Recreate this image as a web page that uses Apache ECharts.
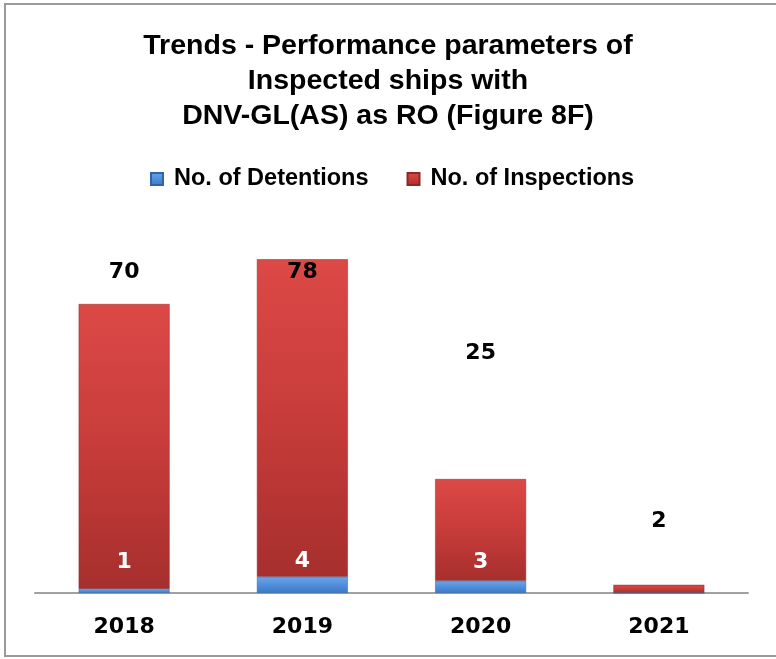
<!DOCTYPE html>
<html>
<head>
<meta charset="utf-8">
<script src="https://cdn.jsdelivr.net/npm/echarts@6/dist/echarts.min.js"></script>
<style>
  html, body { margin: 0; padding: 0; background: #fff; }
  #chart { width: 776px; height: 659px; }
</style>
</head>
<body>
<div id="chart"></div>
<script>
const years = ["2018", "2019", "2020", "2021"];
const detentions = [1, 4, 3, 0];
const inspections = [70, 78, 25, 2];

// label nudges (px) so the numbers sit where the original put them
const inspLabelShift = [-16, 29, -110, -48];
const detLabelShift = [-11, 1, -3, 0];

const myChart = echarts.init(document.getElementById("chart"));

const font = "Liberation Sans, Arial, sans-serif";
const numFont = "DejaVu Sans, sans-serif";

const redFill = new echarts.graphic.LinearGradient(0, 0, 0, 1, [
  { offset: 0, color: "#dc4946" },
  { offset: 0.5, color: "#c73c3a" },
  { offset: 1, color: "#a62f2d" },
]);
const blueFill = new echarts.graphic.LinearGradient(0, 0, 0, 1, [
  { offset: 0, color: "#6aa6ec" },
  { offset: 1, color: "#3a78c8" },
]);

const option = {
  animation: false,
  title: {
    text: "Trends - Performance parameters of\nInspected ships with\nDNV-GL(AS) as RO (Figure 8F)",
    left: "center",
    top: 24,
    textStyle: {
      fontFamily: font,
      fontSize: 28.5,
      fontWeight: "bold",
      color: "#000",
      lineHeight: 35,
    },
  },
  legend: {
    top: 162,
    left: 145,
    itemWidth: 12,
    itemHeight: 12,
    itemGap: 38,
    icon: "rect",
    textStyle: {
      fontFamily: font,
      fontSize: 23.5,
      fontWeight: "bold",
      color: "#000",
      padding: [0, 0, 0, 6],
    },
    data: ["No. of Detentions", "No. of Inspections"],
  },
  graphic: [
    {
      type: "rect",
      shape: { x: 5, y: 4, width: 790, height: 652 },
      style: { fill: "none", stroke: "#9a9a9a", lineWidth: 2 },
      silent: true,
    },
  ],
  grid: { left: 35, right: 28, top: 186, bottom: 66 },
  xAxis: {
    type: "category",
    data: years,
    axisLine: { lineStyle: { color: "#a0a0a0", width: 2 } },
    axisTick: { show: false },
    axisLabel: {
      fontFamily: numFont,
      fontSize: 22,
      fontWeight: "bold",
      color: "#000",
      margin: 23,
    },
  },
  yAxis: {
    type: "value",
    min: 0,
    max: 100,
    show: false,
    splitLine: { show: false },
  },
  series: [
    {
      name: "No. of Detentions",
      type: "bar",
      stack: "total",
      barWidth: "51%",
      data: detentions.map((v, i) => ({
        value: v,
        label: { offset: [0, detLabelShift[i]] },
      })),
      itemStyle: { color: blueFill, borderColor: "#2f64a8", borderWidth: 0.5 },
      label: {
        show: true,
        position: "top",
        fontFamily: numFont,
        fontSize: 22,
        fontWeight: "bold",
        color: "#fff",
        formatter: (p) => (p.value ? p.value : ""),
      },
      z: 3,
    },
    {
      name: "No. of Inspections",
      type: "bar",
      stack: "total",
      barWidth: "51%",
      data: inspections.map((v, i) => ({
        value: v,
        label: { offset: [0, inspLabelShift[i]] },
      })),
      itemStyle: { color: redFill, borderColor: "#8e2826", borderWidth: 0.5 },
      label: {
        show: true,
        position: "top",
        fontFamily: numFont,
        fontSize: 22,
        fontWeight: "bold",
        color: "#000",
      },
      z: 2,
    },
  ],
};

myChart.setOption(option);
</script>
</body>
</html>
